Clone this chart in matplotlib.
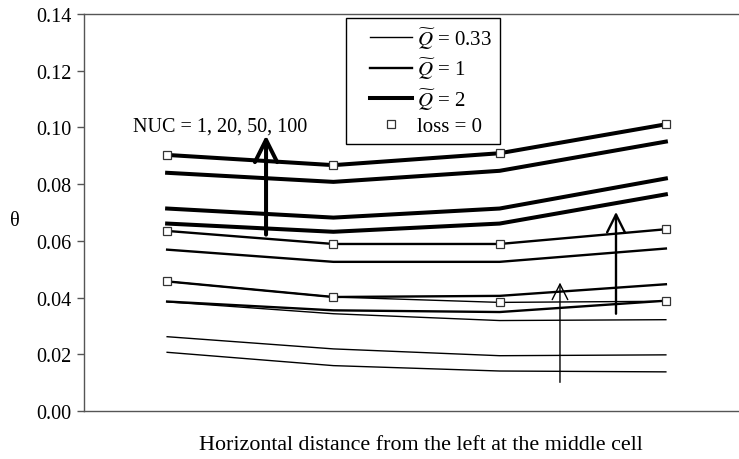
import matplotlib
matplotlib.use("Agg")
import matplotlib.pyplot as plt
from matplotlib.lines import Line2D
from matplotlib.legend_handler import HandlerLine2D

plt.rcParams["font.family"] = ["Liberation Serif", "DejaVu Serif"]
plt.rcParams["mathtext.fontset"] = "stix"

# positions along the middle cell
positions = [1, 2, 3, 4]

# dimensionless temperature for Q~ = 2, NUC = 1, 20, 50, 100
q2_nuc1 = [0.0661, 0.0632, 0.0661, 0.0764]
q2_nuc20 = [0.0714, 0.0682, 0.0714, 0.0820]
q2_nuc50 = [0.0840, 0.0808, 0.0847, 0.0950]
q2_nuc100 = [0.0903, 0.0867, 0.0909, 0.1011]

# Q~ = 1
q1_nuc1 = [0.0386, 0.0355, 0.0349, 0.0389]
q1_nuc20 = [0.0457, 0.0402, 0.0406, 0.0447]
q1_nuc50 = [0.0569, 0.0526, 0.0526, 0.0573]
q1_nuc100 = [0.0635, 0.0589, 0.0589, 0.0641]

# Q~ = 0.33
q033_nuc1 = [0.0207, 0.0160, 0.0141, 0.0138]
q033_nuc20 = [0.0262, 0.0219, 0.0195, 0.0198]
q033_nuc50 = [0.0385, 0.0343, 0.0319, 0.0322]
q033_nuc100 = [0.0457, 0.0402, 0.0383, 0.0387]

# no heat loss
loss0_q2 = [0.0903, 0.0867, 0.0909, 0.1011]
loss0_q1 = [0.0635, 0.0589, 0.0589, 0.0641]
loss0_q033 = [0.0457, 0.0402, 0.0383, 0.0387]

y_ticks = [0.00, 0.02, 0.04, 0.06, 0.08, 0.10, 0.12, 0.14]

W, H = 739, 460
fig = plt.figure(figsize=(W / 100, H / 100), dpi=100)
ax = fig.add_axes([84 / W, 48 / H, 665 / W, 397 / H])

fs = 14.5
lw_thin, lw_mid, lw_thick = 1.0, 1.7, 2.9

groups = [
    ([q033_nuc1, q033_nuc20, q033_nuc50, q033_nuc100], lw_thin, r"$\widetilde{Q}$ = 0.33"),
    ([q1_nuc1, q1_nuc20, q1_nuc50, q1_nuc100], lw_mid, r"$\widetilde{Q}$ = 1"),
    ([q2_nuc1, q2_nuc20, q2_nuc50, q2_nuc100], lw_thick, r"$\widetilde{Q}$ = 2"),
]
handles = []
for series, lw, label in groups:
    for i, ys in enumerate(series):
        ln, = ax.plot(positions, ys, color="black", lw=lw, solid_joinstyle="miter",
                      label=label if i == 0 else None)
        if i == 0:
            handles.append(ln)

for k, ys in enumerate([loss0_q033, loss0_q1, loss0_q2]):
    mk, = ax.plot(positions, ys, linestyle="none", marker="s", markersize=6,
                  markerfacecolor="white", markeredgecolor="#333333",
                  markeredgewidth=0.9, label="loss = 0" if k == 0 else None, zorder=4)
    if k == 0:
        handles.append(mk)

# arrows showing increasing NUC
arrows = [
    (1.595, 0.0622, 0.0972, lw_thick, 20, 0.8, 0.4),
    (3.70, 0.0343, 0.0702, lw_mid, 16, 0.8, 0.4),
    (3.363, 0.0101, 0.0453, lw_thin, 14, 0.8, 0.4),
]
for xa, y0, y1, lw, ms, hl, hw in arrows:
    ax.annotate("", xy=(xa, y1), xytext=(xa, y0),
                arrowprops=dict(arrowstyle=f"->,head_length={hl},head_width={hw}",
                                lw=lw, color="black", shrinkA=0, shrinkB=0,
                                mutation_scale=ms))

ax.text(1.318, 0.1004, "NUC = 1, 20, 50, 100", ha="center", va="center", fontsize=fs)

ax.set_xlim(0.5, 4.5)
ax.set_ylim(0, 0.14)
ax.set_yticks(y_ticks)
ax.set_yticklabels([f"{v:.2f}" for v in y_ticks], fontsize=fs)
ax.set_xticks([])
ax.tick_params(axis="y", direction="out", length=5, width=1.0, color="#555555", pad=4)
for side in ["left", "bottom", "top"]:
    ax.spines[side].set_color("#555555")
    ax.spines[side].set_linewidth(1.0)
ax.spines["right"].set_visible(False)

ax.set_xlabel("Horizontal distance from the left at the middle cell", fontsize=15.8)
ax.xaxis.set_label_coords(0.507, -0.060)
ax.set_ylabel("θ", fontsize=fs, rotation=0, va="center", ha="center")
ax.yaxis.set_label_coords(-0.104, 0.479)

leg = ax.legend(handles=handles, loc="upper left",
                bbox_to_anchor=(346 / W, 1 - 19 / H), bbox_transform=fig.transFigure,
                fontsize=15, frameon=True, fancybox=False, edgecolor="black",
                framealpha=1, borderpad=0.35, borderaxespad=0, handlelength=2.83,
                handletextpad=0.25, labelspacing=0.24, numpoints=1,
                handler_map={Line2D: HandlerLine2D(xpad=0.82)})
leg.get_frame().set_linewidth(1.0)

fig.savefig("out.png", dpi=100)
